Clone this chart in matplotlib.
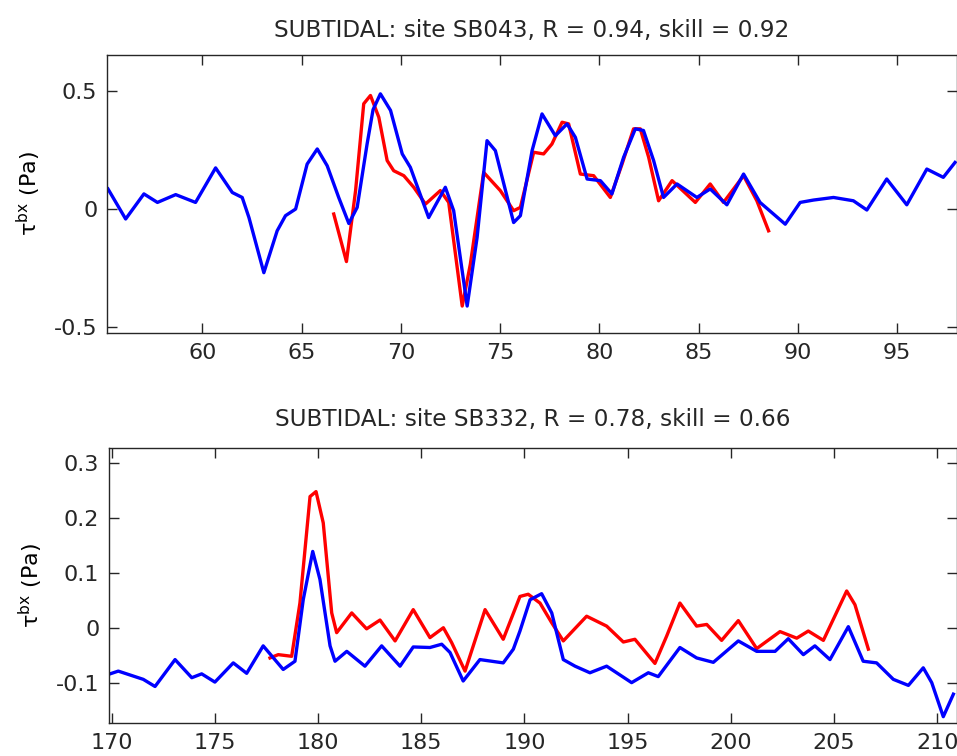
import matplotlib
matplotlib.use("Agg")
import matplotlib.pyplot as plt

plt.rcParams['font.family'] = ['DejaVu Sans']
plt.rcParams['mathtext.fontset'] = 'dejavusans'
plt.rcParams['text.color'] = '#262626'

# site SB043 (days)
t1_obs = [55.25, 56.14, 57.06, 57.74, 58.66, 59.66, 60.67, 61.51, 62.01, 62.35,
          63.10, 63.77, 64.19, 64.70, 65.28, 65.79, 66.29, 66.87, 67.38, 67.80,
          68.30, 68.60, 68.97, 69.48, 70.07, 70.48, 71.40, 72.24, 72.66, 73.34, 73.84,
          74.34, 74.76, 75.68, 76.02, 76.61, 77.11, 77.78, 78.37, 78.79, 79.38,
          80.05, 80.63, 81.22, 81.81, 82.22, 82.73, 83.23, 83.91, 84.91, 85.58,
          86.42, 87.26, 88.09, 89.36, 90.11, 90.78, 91.79, 92.79, 93.47, 94.47,
          95.48, 96.49, 97.32, 97.91]
tau1_obs = [0.085, -0.042, 0.064, 0.028, 0.061, 0.028, 0.174, 0.070, 0.049, -0.036,
            -0.269, -0.092, -0.028, 0.0, 0.19, 0.254, 0.183, 0.049, -0.061, 0.007,
            0.275, 0.42, 0.487, 0.417, 0.233, 0.176, -0.036, 0.092, -0.007, -0.41, -0.12,
            0.289, 0.247, -0.057, -0.028, 0.247, 0.402, 0.31, 0.36, 0.303, 0.127,
            0.12, 0.064, 0.219, 0.339, 0.332, 0.205, 0.049, 0.106, 0.049, 0.085,
            0.018, 0.148, 0.028, -0.064, 0.028, 0.038, 0.049, 0.035, -0.004, 0.127,
            0.018, 0.169, 0.134, 0.197]
t1_mod = [66.62, 67.26, 67.72, 68.13, 68.47, 68.89, 69.31, 69.64, 70.15, 70.65,
          71.24, 71.99, 72.41, 73.09, 73.50, 74.17, 75.01, 75.68, 76.02, 76.69,
          77.19, 77.61, 78.12, 78.45, 79.04, 79.71, 80.55, 81.14, 81.72, 82.06,
          82.48, 82.98, 83.66, 84.83, 85.58, 86.25, 87.26, 87.93, 88.52]
tau1_mod = [-0.021, -0.222, 0.078, 0.445, 0.48, 0.388, 0.205, 0.162, 0.141, 0.092,
            0.021, 0.078, 0.028, -0.41, -0.233, 0.155, 0.078, -0.007, 0.007, 0.24,
            0.233, 0.275, 0.367, 0.36, 0.148, 0.141, 0.049, 0.19, 0.339, 0.339,
            0.219, 0.035, 0.12, 0.028, 0.106, 0.028, 0.141, 0.035, -0.092]

# site SB332 (days)
t2_obs = [169.84, 170.32, 171.53, 172.10, 173.07, 173.88, 174.36, 175.00, 175.89, 176.54,
          177.34, 178.31, 178.88, 179.28, 179.74, 180.09, 180.58, 180.82, 181.39, 182.27,
          183.08, 183.97, 184.61, 185.42, 185.99, 186.39, 187.03, 187.84, 188.97, 189.46,
          189.78, 190.27, 190.83, 191.32, 191.88, 192.45, 193.17, 193.98, 195.19, 196.00,
          196.48, 197.53, 198.34, 199.15, 200.36, 201.25, 202.14, 202.78, 203.51, 204.07,
          204.80, 205.69, 206.41, 207.06, 207.87, 208.60, 209.32, 209.73, 210.29, 210.78]
tau2_obs = [-0.085, -0.079, -0.094, -0.107, -0.058, -0.091, -0.084, -0.099, -0.064, -0.083,
            -0.033, -0.076, -0.061, 0.051, 0.139, 0.088, -0.033, -0.061, -0.043, -0.07,
            -0.033, -0.07, -0.035, -0.036, -0.030, -0.045, -0.097, -0.058, -0.064, -0.039,
            -0.006, 0.051, 0.062, 0.027, -0.058, -0.07, -0.082, -0.07, -0.1, -0.082,
            -0.089, -0.036, -0.055, -0.063, -0.024, -0.043, -0.043, -0.02, -0.049, -0.033,
            -0.058, 0.002, -0.061, -0.064, -0.094, -0.105, -0.073, -0.1, -0.162, -0.121]
t2_mod = [177.67, 178.07, 178.72, 179.12, 179.61, 179.90, 180.25, 180.66, 180.90, 181.63,
          182.35, 183.00, 183.73, 184.61, 185.42, 186.07, 186.47, 187.12, 188.09, 188.97,
          189.78, 190.18, 190.75, 191.32, 191.88, 193.01, 193.98, 194.79, 195.35, 196.32,
          196.89, 197.53, 198.34, 198.83, 199.55, 200.36, 201.25, 202.38, 203.19, 203.75,
          204.48, 205.61, 206.01, 206.66]
tau2_mod = [-0.055, -0.049, -0.052, 0.045, 0.239, 0.248, 0.191, 0.027, -0.009, 0.027,
            -0.002, 0.014, -0.024, 0.033, -0.018, 0.0, -0.027, -0.079, 0.033, -0.021,
            0.057, 0.061, 0.045, 0.009, -0.024, 0.021, 0.003, -0.026, -0.021, -0.065,
            -0.015, 0.045, 0.003, 0.006, -0.023, 0.013, -0.038, -0.007, -0.019, -0.006,
            -0.023, 0.067, 0.042, -0.039]

fig = plt.figure(figsize=(9.57, 7.56), dpi=100)
ax1 = fig.add_axes([0.1118, 0.5595, 0.888, 0.3677])
ax2 = fig.add_axes([0.1139, 0.0433, 0.886, 0.3638])

ax1.plot(t1_mod, tau1_mod, color='red', lw=2.4)
ax1.plot(t1_obs, tau1_obs, color='blue', lw=2.4)
ax2.plot(t2_mod, tau2_mod, color='red', lw=2.4)
ax2.plot(t2_obs, tau2_obs, color='blue', lw=2.4)

ax1.set_xlim(55.2, 98.0)
ax1.set_ylim(-0.524, 0.651)
ax1.set_xticks(range(60, 100, 5))
ax1.set_yticks([-0.5, 0, 0.5])
ax1.set_yticklabels(['-0.5', '0', '0.5'])
ax1.set_title('SUBTIDAL: site SB043, R = 0.94, skill = 0.92', fontsize=16.7, pad=13)

ax2.set_xlim(169.87, 210.95)
ax2.set_ylim(-0.174, 0.327)
ax2.set_xticks(range(170, 215, 5))
ax2.set_yticks([-0.1, 0, 0.1, 0.2, 0.3])
ax2.set_yticklabels(['-0.1', '0', '0.1', '0.2', '0.3'])
ax2.set_title('SUBTIDAL: site SB332, R = 0.78, skill = 0.66', fontsize=16.7, pad=16)

for ax in (ax1, ax2):
    ax.set_ylabel(r'$\mathregular{\tau^{bx}}$ (Pa)', fontsize=16, labelpad=8)
    ax.tick_params(direction='in', length=7, width=1, top=True, right=True,
                   labelsize=16, pad=7, color='#262626', labelcolor='#262626')
    for s in ax.spines.values():
        s.set_linewidth(1)
        s.set_color('#262626')

fig.savefig('out.png', dpi=100)
